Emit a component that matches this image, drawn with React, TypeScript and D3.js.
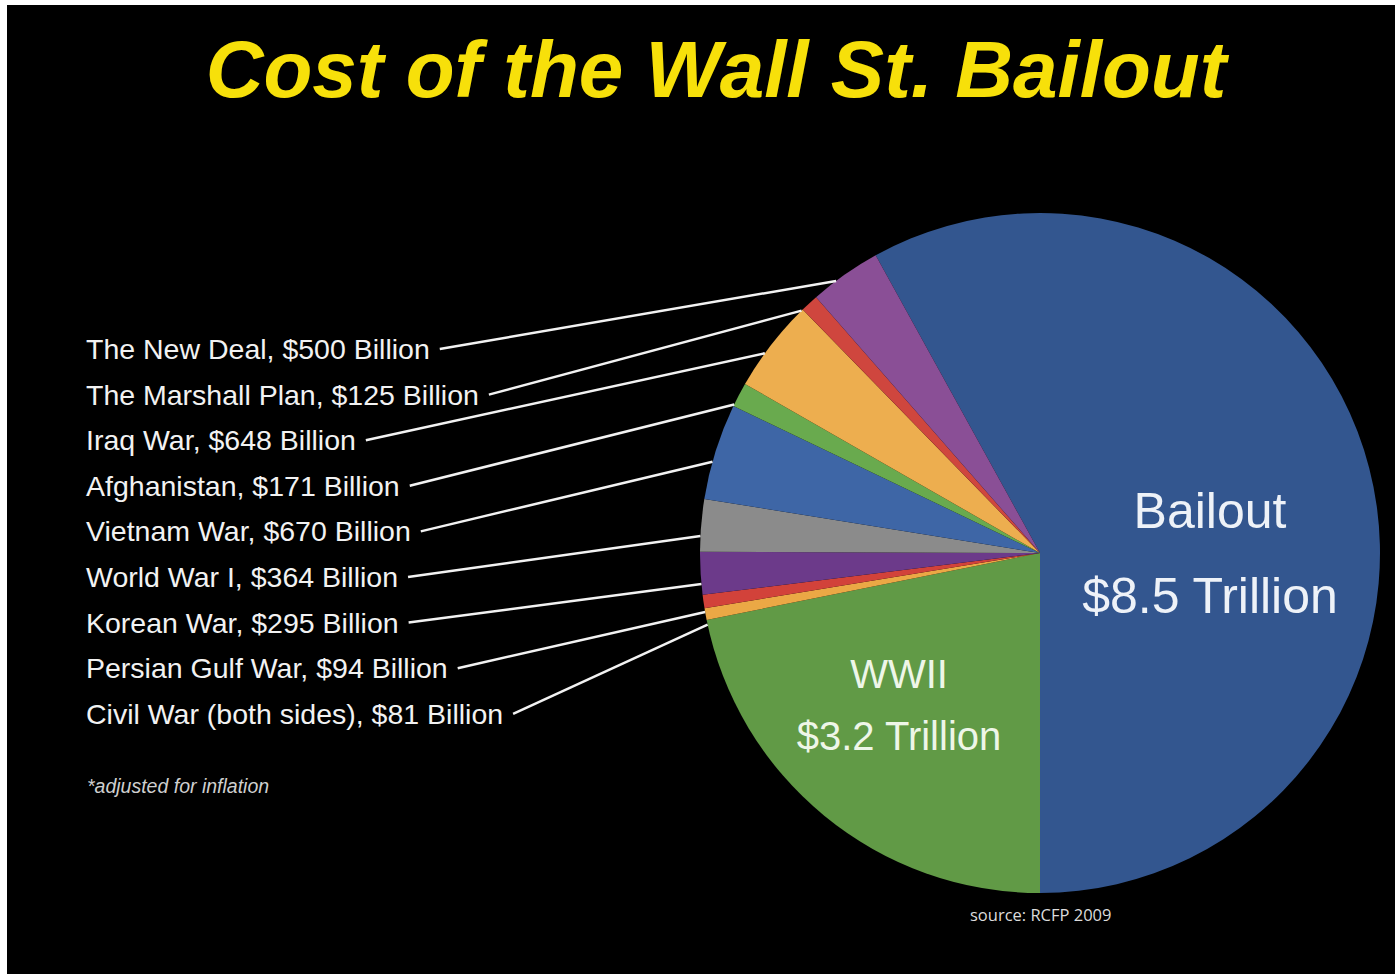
import * as d3 from 'd3';
import { useEffect, useRef } from 'react';

const WIDTH = 1395;
const HEIGHT = 974;

// slices, clockwise from the Bailout slice
const NAMES = [
    'Bailout',
    'WWII',
    'Civil War (both sides)',
    'Persian Gulf War',
    'Korean War',
    'World War I',
    'Vietnam War',
    'Afghanistan',
    'Iraq War',
    'The Marshall Plan',
    'The New Deal',
];
const VALUES = [8500, 3200, 81, 94, 295, 364, 670, 171, 648, 125, 500];
const AMOUNTS = [
    '$8.5 Trillion',
    '$3.2 Trillion',
    '$81 Billion',
    '$94 Billion',
    '$295 Billion',
    '$364 Billion',
    '$670 Billion',
    '$171 Billion',
    '$648 Billion',
    '$125 Billion',
    '$500 Billion',
];
const COLORS = [
    '#33568f',
    '#619a46',
    '#eba845',
    '#d2423a',
    '#6c3a8a',
    '#8b8b8b',
    '#3e66a6',
    '#69aa4e',
    '#edae4f',
    '#cf463e',
    '#8a4f96',
];
// left-hand list, top to bottom
const LIST_ORDER = [
    'The New Deal',
    'The Marshall Plan',
    'Iraq War',
    'Afghanistan',
    'Vietnam War',
    'World War I',
    'Korean War',
    'Persian Gulf War',
    'Civil War (both sides)',
];

const TITLE = 'Cost of the Wall St. Bailout';
const FONT = '"Liberation Sans", Arial, Helvetica, sans-serif';

const CX = 1040;
const CY = 553;
const R = 340;
// leader lines land a little before the slice middle in the original
const LEADER_NUDGE = (-1.8 * Math.PI) / 180;

type Slice = { name: string; value: number; amount: string; color: string };

const App = () => {
    const svgRef = useRef<SVGSVGElement>(null);

    useEffect(() => {
        if (!svgRef.current) return;
        const svg = d3.select(svgRef.current);
        svg.selectAll('*').remove();

        const slices: Slice[] = NAMES.map((name, i) => ({
            name,
            value: VALUES[i],
            amount: AMOUNTS[i],
            color: COLORS[i],
        }));
        const total = d3.sum(VALUES);
        // Bailout ends exactly at 6 o'clock
        const start = Math.PI - (2 * Math.PI * VALUES[0]) / total;

        svg.append('rect').attr('width', WIDTH).attr('height', HEIGHT).attr('fill', '#fff');
        svg.append('rect')
            .attr('x', 7)
            .attr('y', 5)
            .attr('width', WIDTH - 7)
            .attr('height', HEIGHT - 5)
            .attr('fill', '#000');

        svg.append('text')
            .attr('x', 716)
            .attr('y', 97)
            .attr('text-anchor', 'middle')
            .attr('font-family', FONT)
            .attr('font-weight', 'bold')
            .attr('font-style', 'italic')
            .attr('font-size', 80)
            .attr('fill', '#f7e00a')
            .text(TITLE);

        const pie = d3
            .pie<Slice>()
            .sort(null)
            .value((d) => d.value)
            .startAngle(start)
            .endAngle(start + 2 * Math.PI);
        const arcs = pie(slices);
        const arc = d3.arc<d3.PieArcDatum<Slice>>().innerRadius(0).outerRadius(R);

        const g = svg.append('g').attr('transform', `translate(${CX},${CY})`);
        g.selectAll('path')
            .data(arcs)
            .enter()
            .append('path')
            .attr('d', arc)
            .attr('fill', (d) => d.data.color);

        // list on the left with leader lines
        const list = svg.append('g');
        LIST_ORDER.forEach((name, i) => {
            const a = arcs.find((d) => d.data.name === name)!;
            const baseline = 359 + i * 45.6;
            const t = list
                .append('text')
                .attr('x', 86)
                .attr('y', baseline)
                .attr('font-family', FONT)
                .attr('font-size', 28.5)
                .attr('fill', '#f2f2f2')
                .text(`${name}, ${a.data.amount}`);
            const w = (t.node() as SVGTextElement).getComputedTextLength();
            const ang = (a.startAngle + a.endAngle) / 2 + LEADER_NUDGE;
            list.append('line')
                .attr('x1', 86 + w + 10)
                .attr('y1', baseline - 10)
                .attr('x2', CX + R * Math.sin(ang))
                .attr('y2', CY - R * Math.cos(ang))
                .attr('stroke', '#f2f2f2')
                .attr('stroke-width', 2.5);
        });

        svg.append('text')
            .attr('x', 87)
            .attr('y', 793)
            .attr('font-family', FONT)
            .attr('font-style', 'italic')
            .attr('font-size', 19.5)
            .attr('fill', '#cfcfcf')
            .text('*adjusted for inflation');

        // big labels inside the two main slices
        const inner = [
            { d: arcs[0], title: 'Bailout', dx: 170, y1: -25, y2: 60, size: 50, fill: '#eef2f8' },
            { d: arcs[1], title: 'WWII', dx: -141, y1: 135, y2: 197, size: 40, fill: '#eef6e8' },
        ];
        inner.forEach((l) => {
            g.append('text')
                .attr('x', l.dx)
                .attr('y', l.y1)
                .attr('text-anchor', 'middle')
                .attr('font-family', FONT)
                .attr('font-size', l.size)
                .attr('fill', l.fill)
                .text(l.title);
            g.append('text')
                .attr('x', l.dx)
                .attr('y', l.y2)
                .attr('text-anchor', 'middle')
                .attr('font-family', FONT)
                .attr('font-size', l.size)
                .attr('fill', l.fill)
                .text(l.d.data.amount);
        });

        svg.append('text')
            .attr('x', 970)
            .attr('y', 921)
            .attr('font-family', '"Open Sans", "Noto Sans", sans-serif')
            .attr('font-size', 16.5)
            .attr('fill', '#dcdcdc')
            .text('source: RCFP 2009');
    }, []);

    return (
        <svg
            ref={svgRef}
            width={WIDTH}
            height={HEIGHT}
            style={{ position: 'absolute', left: 0, top: 0, display: 'block' }}
        ></svg>
    );
};

export default App;
